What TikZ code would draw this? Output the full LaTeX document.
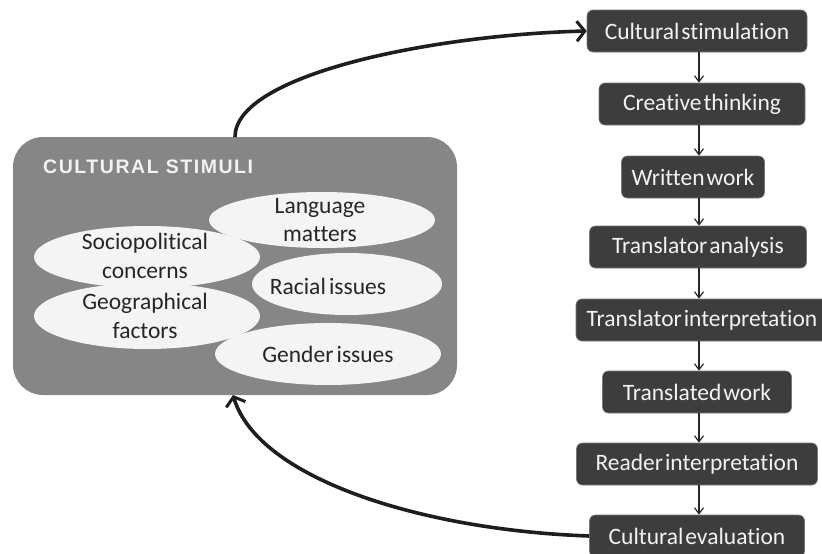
\documentclass[tikz,border=0pt]{standalone}
\usepackage{fontspec}
\usetikzlibrary{shapes.geometric,arrows.meta}
\newfontfamily\boxfont[WordSpace=0.45,Ligatures={NoCommon,NoContextual},Contextuals=NoAlternate]{Carlito}
\newfontfamily\ellfont[WordSpace=0.6,Ligatures={NoCommon,NoContextual},Contextuals=NoAlternate]{Carlito}
\newfontfamily\titlefont[LetterSpace=8]{Liberation Sans}
\definecolor{stimbg}{HTML}{868686}
\definecolor{ellfill}{HTML}{F4F4F4}
\definecolor{boxfill}{HTML}{3D3D3D}
\definecolor{boxtext}{HTML}{F2F2F2}
\definecolor{curvecol}{HTML}{1E1E1E}
\tikzset{
  stepbox/.style={fill=boxfill, draw=boxfill!70!white, line width=0.6pt, rounded corners=6pt,
    minimum height=42pt, inner sep=0pt, text=boxtext,
    font=\boxfont\fontsize{23.5}{26}\selectfont},
  bubble/.style={ellipse, fill=ellfill, inner sep=0pt},
  bubbletext/.style={align=center, text=black!85, font=\ellfont\fontsize{23.5}{28.5}\selectfont},
  smallarrow/.style={draw=black!85, line width=1.3pt, -{Straight Barb[length=6pt,width=9pt,line width=1.2pt]}},
  bigcurve/.style={draw=curvecol, line width=3.6pt, -{Straight Barb[length=8pt,width=20pt,line width=3pt]}}
}
\begin{document}
\begin{tikzpicture}[x=1pt,y=-1pt]
\useasboundingbox (0,0) rectangle (822,554);
% big grey box
\node[fill=stimbg, rounded corners=30pt, minimum width=444pt, minimum height=258pt, inner sep=0pt, outer sep=0pt] (stim) at (235,266) {};
\node[anchor=west, text=boxtext, font=\titlefont\bfseries\fontsize{19.5}{22}\selectfont, inner sep=0pt] (title) at (43,167) {CULTURAL STIMULI};
% ellipses
\node[bubble, minimum width=226pt, minimum height=56pt] (langE) at (322,220) {};
\node[bubble, minimum width=226pt, minimum height=62pt] (socE) at (147,257) {};
\node[bubble, minimum width=190pt, minimum height=62pt] (racE) at (347,284) {};
\node[bubble, minimum width=226pt, minimum height=66pt] (geoE) at (147,316) {};
\node[bubble, minimum width=226pt, minimum height=62pt] (genE) at (328,354) {};
\node[bubbletext] (langT) at (320,220) {Language\\matters};
\node[bubbletext] (socT) at (145,256) {Sociopolitical\\concerns};
\node[bubbletext] (racT) at (328,286) {Racial issues};
\node[bubbletext] (geoT) at (145,316) {Geographical\\factors};
\node[bubbletext] (genT) at (328,354) {Gender issues};
% right column
\node[stepbox, minimum width=220pt] (s1) at (697,31) {Cultural stimulation};
\node[stepbox, minimum width=206pt] (s2) at (702,104) {Creative thinking};
\node[stepbox, minimum width=143pt] (s3) at (693,177) {Written work};
\node[stepbox, minimum width=217pt] (s4) at (698,247) {Translator analysis};
\node[stepbox, minimum width=252pt] (s5) at (702,320) {Translator interpretation};
\node[stepbox, minimum width=189pt] (s6) at (697,392) {Translated work};
\node[stepbox, minimum width=241pt] (s7) at (697,464) {Reader interpretation};
\node[stepbox, minimum width=215pt] (s8) at (697,536) {Cultural evaluation};
\coordinate (col) at (699,0);
\foreach \a/\b in {s1/s2,s2/s3,s3/s4,s4/s5,s5/s6,s6/s7,s7/s8}{
  \draw[smallarrow] (\a.south -| col) -- (\b.north -| col);
}
% curved connectors
\draw[bigcurve] (stim.north -| 235,0) .. controls (235,75) and (430,35) .. (s1.west);
\draw[bigcurve] (s8.west) .. controls (420,530) and (258,478) .. (stim.south -| 233,0);
\end{tikzpicture}
\end{document}
